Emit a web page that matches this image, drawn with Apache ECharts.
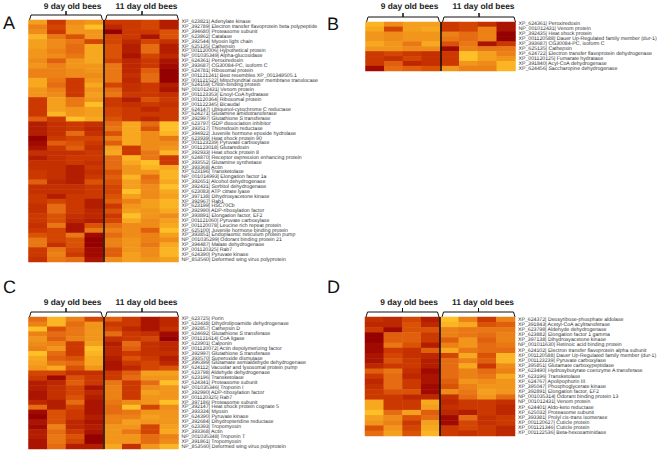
<!DOCTYPE html>
<html>
<head>
<meta charset="utf-8">
<title>Heatmaps</title>
<style>
  html, body { margin: 0; padding: 0; background: #fff; }
  #chart { width: 661px; height: 452px; }
  /* small gene labels: keep true glyph widths, hinting squeezes them */
  #chart text { text-rendering: geometricPrecision; }
</style>
<script src="https://cdn.jsdelivr.net/npm/echarts@6/dist/echarts.min.js"></script>
</head>
<body>
<div id="chart"></div>
<script>
const columns = ['9d-1', '9d-2', '9d-3', '9d-4', '11d-1', '11d-2', '11d-3', '11d-4'];
const groupNames = ['9 day old bees', '11 day old bees'];

// 0 = darkest red, 9 = lightest yellow
const colorRamp = ['#950000', '#ab1400', '#bd2800', '#cb3800', '#da5206', '#e56c12', '#ec8116', '#f1951b', '#f7a81f', '#ffbf26'];

const labelsA = [
  'XP_623821| Adenylate kinase',
  'XP_392789| Electron transfer flavoprotein beta polypeptide',
  'XP_394680| Proteasome subunit',
  'XP_623862| Catalase',
  'XP_392544| Myosin light chain',
  'XP_625135| Cathepsin',
  'XP_001120006| Hypothetical protein',
  'NP_001035349| Alpha-glucosidase',
  'XP_624361| Peroxiredoxin',
  'XP_393687| CG30084-PC, isoform C',
  'XP_624781| Ribosomal protein',
  'XP_001121241| Best resembles XP_001349505.1',
  'XP_001121522| Mitochondrial outer membrane translocase',
  'XP_624159| Chitin-binding protein',
  'NP_001012431| Venom protein',
  'XP_001123353| Enoyl-CoA hydratase',
  'XP_001120364| Ribosomal protein',
  'XP_001122345| Bicaudal',
  'XP_624147| Ubiquinol-cytochrome C reductase',
  'XP_624271| Glutamine amidotransferase',
  'XP_392997| Glutathione S transferase',
  'XP_623797| GDP dissociation inhibitor',
  'XP_393517| Thioredoxin reductase',
  'XP_394922| Juvenile hormone epoxide hydrolase',
  'XP_623939| Heat shock protein 90',
  'XP_001123239| Pyruvate carboxylase',
  'XP_001123018| Glutaredoxin',
  'XP_392933| Heat shock protein 8',
  'XP_624870| Receptor expression enhancing protein',
  'XP_393552| Glutamine synthetase',
  'XP_393368| Actin',
  'XP_623196| Transketolase',
  'NP_001014993| Elongation factor 1a',
  'XP_392651| Alcohol dehydrogenase',
  'XP_392431| Sorbitol dehydrogenase',
  'XP_623083| ATP citrate lyase',
  'XP_397138| Dihydroxyacetone kinase',
  'XP_392967| Rab1',
  'XP_623199| HSC70Cb',
  'XP_392990| ADP-ribosylation factor',
  'XP_393891| Elongation factor, EF2',
  'XP_001121060| Pyruvate carboxylase',
  'XP_001120078| Leucine rich repeat protein',
  'XP_625100| Juvenile hormone binding protein',
  'XP_393851| Endoplasmic reticulum protein pump',
  'NP_001035299| Odorant binding protein 21',
  'XP_394487| Malate dehydrogenase',
  'XP_001120325| Rab7',
  'XP_624390| Pyruvate kinase',
  'NP_853560| Deformed wing virus polyprotein',
];
const valuesA = [
  [7.5, 3, 6.5, 7, 3, 3, 3.5, 1.5],
  [6, 3.5, 7, 9, 2, 3, 3.5, 1.5],
  [6.5, 3, 7, 7, 0, 3, 3, 4],
  [8.5, 5.5, 4, 7, 3.5, 3, 1, 4],
  [7.5, 6.5, 5.5, 3.5, 3.5, 2, 3.5, 2.5],
  [7.5, 6.5, 5, 8, 4, 1.5, 5, 1.5],
  [7, 6, 5, 8, 4, 1.5, 5, 1.5],
  [7, 6.5, 5.5, 8, 4, 1, 3.5, 2],
  [6.5, 4.5, 7, 8, 3.5, 2, 3, 1],
  [7, 6, 7, 7, 5.5, 2, 3, 0.5],
  [6, 6, 6.5, 7, 5.5, 2, 4.5, 0],
  [6, 6, 6.5, 6.5, 5.5, 2.5, 5, 0],
  [8, 5.5, 3, 7, 5.5, 2, 5, 0],
  [8, 5, 3, 8, 3.5, 2.5, 3, 1.5],
  [7, 6, 3, 7, 5, 2.5, 3, 1],
  [7, 6.5, 3, 7.5, 5.5, 3, 3, 2.5],
  [3, 7.5, 5.5, 7, 3, 1.5, 4, 3],
  [3, 7.5, 5.5, 9, 3, 2.5, 3, 2.5],
  [3, 7.5, 7, 7.5, 3.5, 3, 2, 3],
  [3, 8.5, 7, 7.5, 3.5, 3, 3, 3],
  [4.5, 3, 9, 8, 4, 3, 2, 3],
  [1.5, 2.5, 3, 2.5, 5, 8, 5, 9],
  [1.5, 2.5, 3, 2, 5.5, 8, 4, 9],
  [1.5, 2.5, 5, 2.5, 4, 8, 6.5, 8.5],
  [0, 3, 3.5, 3.5, 6, 8, 6.5, 5.5],
  [0.5, 4.5, 4, 3, 4.5, 8, 6.5, 6.5],
  [1, 3, 4.5, 2.5, 7.5, 3, 6.5, 7],
  [2.5, 2.5, 2.5, 3, 8, 3, 5.5, 8.5],
  [1.5, 2.5, 3, 3, 5, 8.5, 5.5, 3],
  [2.5, 2.5, 3, 2.5, 5, 8, 9, 3],
  [2.5, 2.5, 1.5, 3, 5, 7, 8.5, 8],
  [3, 2.5, 1.5, 2.5, 4, 7, 7, 8.5],
  [3, 2.5, 1.5, 3, 4.5, 8.5, 5, 8.5],
  [4.5, 2, 1.5, 4, 4, 7.5, 5.5, 8],
  [2.5, 2.5, 2.5, 3, 3.5, 7.5, 6.5, 9],
  [2.5, 2.5, 2.5, 3, 3.5, 9, 6.5, 8],
  [3, 1.5, 3, 3, 4, 7.5, 6.5, 7.5],
  [3, 3.5, 3, 1.5, 4.5, 6, 7.5, 8.5],
  [2.5, 5, 3, 1.5, 3, 7, 7.5, 8.5],
  [2.5, 5, 3, 2, 4, 7.5, 7, 8],
  [3, 4, 2.5, 2, 3, 9, 7, 6.5],
  [3, 4, 2, 1.5, 3.5, 8, 6.5, 7.5],
  [2.5, 5.5, 1, 4, 5, 6.5, 6.5, 8],
  [3, 3.5, 1, 5.5, 6, 6.5, 4.5, 9],
  [4, 3.5, 5.5, 0.5, 5, 6.5, 6, 7.5],
  [5.5, 3.5, 4, 0, 6, 7, 6, 6.5],
  [5.5, 2.5, 4, 0, 6, 7, 5.5, 8],
  [3, 5.5, 3.5, 0.5, 4.5, 7, 6.5, 8.5],
  [3, 6, 3, 0.5, 4.5, 7.5, 6.5, 8.5],
  [2.5, 5.5, 5, 1, 6.5, 7.5, 7, 7.5],
];

const labelsB = [
  'XP_624361| Peroxiredoxin',
  'NP_001012431| Venom protein',
  'XP_392435| Heat shock protein',
  'XP_001120588| Dauer Up-Regulated family member (dur-1)',
  'XP_393687| CG30084-PC, isoform C',
  'XP_625135| Cathepsin',
  'XP_624722| Electron transfer flavoprotein dehydrogenase',
  'XP_001120125| Fumarate hydratase',
  'XP_391840| Acyl-CoA dehydrogenase',
  'XP_624456| Saccharopine dehydrogenase',
];
const valuesB = [
  [8.5, 6.5, 7.5, 7.5, 3, 3.5, 2.5, 1],
  [8, 3.5, 7.5, 8, 3, 3.5, 6, 1],
  [7, 6.5, 7, 7, 6, 5, 6, 0],
  [7, 6.5, 7, 7, 5.5, 5, 6, 0],
  [8, 7, 5.5, 8, 4, 5.5, 1, 3],
  [7, 7, 6.5, 6.5, 0.5, 6, 5.5, 5.5],
  [3, 3.5, 3, 2.5, 3, 9, 7.5, 6],
  [3, 2.5, 3.5, 2.5, 3, 9, 7.5, 7],
  [3, 4.5, 2, 2.5, 3, 7, 6.5, 8.5],
  [0.5, 5, 4.5, 4, 7, 6, 6, 8.5],
];

const labelsC = [
  'XP_623725| Porin',
  'XP_623438| Dihydrolipoamide dehydrogenase',
  'XP_392857| Cathepsin D',
  'XP_624692| Glutathione S transferase',
  'XP_001121614| CoA ligase',
  'XP_623901| Calponin',
  'XP_001120072| Actin depolymerizing factor',
  'XP_392997| Glutathione S transferase',
  'XP_393570| Superoxide dismutase',
  'XP_396399| Glutamate semialdehyde dehydrogenase',
  'XP_624112| Vacuolar and lysosomal protein pump',
  'XP_623798| Aldehyde dehydrogenase',
  'XP_623196| Transketolase',
  'XP_624341| Proteasome subunit',
  'NP_001035346| Troponin I',
  'XP_392990| ADP-ribosylation factor',
  'XP_001120325| Rab7',
  'XP_397186| Proteasome subunit',
  'XP_392147| Heat shock protein cognate 5',
  'XP_393334| Myosin',
  'XP_624390| Pyruvate kinase',
  'XP_392684| Dihydropteridine reductase',
  'XP_623393| Tropomyosin',
  'XP_393368| Actin',
  'NP_001035348| Troponin T',
  'XP_391861| Tropomyosin',
  'NP_853560| Deformed wing virus polyprotein',
];
const valuesC = [
  [5, 8.5, 6, 3.5, 4.5, 3, 1, 2],
  [6, 8.5, 5, 7, 3, 3, 1, 2],
  [9, 4, 5.5, 7, 3.5, 2, 1, 2.5],
  [6, 5, 5.5, 7, 5, 3, 2.5, 0.5],
  [7, 4.5, 6, 7, 2.5, 3, 3.5, 0],
  [6.5, 6, 3, 7.5, 1.5, 5, 2.5, 2],
  [6, 7, 3, 9, 2, 4.5, 2.5, 2],
  [9, 5, 3, 8.5, 2, 3, 2.5, 2.5],
  [8, 4.5, 4, 8, 1.5, 4, 3, 1.5],
  [7.5, 5.5, 5, 8, 1, 3, 3.5, 2],
  [7, 8, 4, 7, 1, 2, 3.5, 4],
  [3.5, 3.5, 2.5, 2.5, 3, 4.5, 7.5, 7.5],
  [3, 0.5, 4, 3, 3, 5, 7, 7],
  [1.5, 2, 4.5, 3, 5.5, 3, 5, 9],
  [1.5, 2.5, 3.5, 1, 6, 3, 6.5, 7],
  [1, 2.5, 3.5, 2, 6, 3, 7.5, 7],
  [1, 2.5, 4, 1.5, 6, 3, 7, 7],
  [2, 1.5, 5, 1, 5.5, 6.5, 7, 9],
  [5, 1.5, 3.5, 1, 5, 9, 3.5, 6.5],
  [0.5, 4, 3, 1, 5, 5.5, 7, 7],
  [0, 4, 3, 1.5, 6, 6, 7.5, 7],
  [1, 4, 2, 1, 6, 7.5, 7, 7],
  [0.5, 6, 2, 1.5, 7, 7, 3.5, 7.5],
  [1.5, 5, 3, 1, 7, 5.5, 3.5, 8],
  [1.5, 5.5, 4, 0, 7, 7, 5, 6],
  [1, 5.5, 3.5, 0, 7, 7, 5, 6.5],
  [1, 5, 1.5, 1.5, 8, 2.5, 7, 8.5],
];

const labelsD = [
  'XP_624372| Deoxyribose-phosphate aldolase',
  'XP_391843| Acetyl-CoA acyltransferase',
  'XP_623798| Aldehyde dehydrogenase',
  'XP_623882| Elongation factor 1 gamma',
  'XP_397138| Dihydroxyacetone kinase',
  'NP_001011630| Retinoic acid binding protein',
  'XP_624102| Electron transfer flavoprotein alpha subunit',
  'XP_001120588| Dauer Up-Regulated family member (dur-1)',
  'XP_001123239| Pyruvate carboxylase',
  'XP_395851| Glutamate carboxypeptidase',
  'XP_623490| Hydroxybutyrate coenzyme A transferase',
  'XP_623196| Transketolase',
  'XP_624767| Apolipophorin III',
  'XP_395047| Phosphoglycerate kinase',
  'XP_392891| Elongation factor, EF2',
  'NP_001035314| Odorant binding protein 13',
  'NP_001012431| Venom protein',
  'XP_624401| Aldo-keto reductase',
  'XP_625032| Proteasome subunit',
  'XP_393381| Prolyl cis-trans isomerase',
  'XP_001120627| Cuticle protein',
  'XP_001121346| Cuticle protein',
  'XP_001122536| Beta-hexosaminidase',
];
const valuesD = [
  [2.5, 2, 3.5, 1.5, 9, 6, 3, 6],
  [2, 2, 4, 2, 8.5, 8, 4, 4.5],
  [3, 0.5, 4, 4, 6, 5.5, 5.5, 5.5],
  [0, 4.5, 4.5, 3, 6, 5.5, 5, 6],
  [0, 4.5, 4.5, 3, 4.5, 7, 4.5, 6],
  [0.5, 5.5, 4, 1.5, 6, 7, 5, 5.5],
  [0.5, 3, 2.5, 4.5, 8, 5.5, 5, 5],
  [1, 3.5, 2.5, 2, 3.5, 8, 4, 8.5],
  [1, 4, 3, 1.5, 5, 6, 4.5, 8.5],
  [2, 3, 3, 1.5, 5, 8, 3, 6.5],
  [4.5, 5.5, 2.5, 0.5, 5, 6, 5, 6],
  [3, 5, 2, 1, 5, 6, 5.5, 8],
  [2, 5, 3, 1, 4.5, 7, 6.5, 7],
  [2.5, 5, 3, 0.5, 4, 6, 7, 7],
  [3, 4, 4, 0.5, 6.5, 5.5, 7.5, 7],
  [3, 3, 2, 2, 2.5, 5, 7, 5],
  [8, 3, 3, 8, 2, 3, 3, 2.5],
  [8, 3, 3, 7.5, 2.5, 3, 3, 2],
  [9, 5, 7.5, 4.5, 2, 1.5, 3, 2],
  [7.5, 6.5, 4, 5, 0.5, 5, 2.5, 3],
  [7, 6, 3, 7.5, 0.5, 3.5, 2.5, 3],
  [4, 7, 3.5, 8, 3, 3.5, 3, 2],
  [5, 7.5, 4, 8.5, 3, 2.5, 3, 2],
];

const panels = [
  { name: 'A', labels: labelsA, values: valuesA, left: 28.5, top: 20, width: 150, height: 242, letterX: 3, letterY: 23, titleY: 6 },
  { name: 'B', labels: labelsB, values: valuesB, left: 365.5, top: 22, width: 150, height: 49, letterX: 327, letterY: 24, titleY: 6 },
  { name: 'C', labels: labelsC, values: valuesC, left: 28.5, top: 317, width: 150, height: 132, letterX: 3, letterY: 287, titleY: 302 },
  { name: 'D', labels: labelsD, values: valuesD, left: 365, top: 317, width: 150, height: 119, letterX: 327, letterY: 287, titleY: 302 },
];

const chart = echarts.init(document.getElementById('chart'), null, { renderer: 'svg' });
const fontFamily = 'Liberation Sans, Arial, sans-serif';

function bracket(x0, x1, y) {
  const mid = (x0 + x1) / 2;
  return {
    type: 'polyline',
    silent: true,
    shape: { points: [[x0, y + 5], [x0 + 1.5, y], [mid, y], [mid, y - 4], [mid, y], [x1 - 1.5, y], [x1, y + 5]] },
    style: { stroke: '#111', lineWidth: 1, fill: null },
  };
}

function titleText(x, y, text) {
  return {
    type: 'text',
    silent: true,
    style: { x, y, text, fontSize: 8.4, fontWeight: 'bold', fontFamily, fill: '#222', align: 'center', verticalAlign: 'middle' },
  };
}

function panelGraphics(p) {
  const midX = p.left + p.width / 2;
  const bracketY = p.top - 5;
  return [
    { type: 'text', silent: true, style: { x: p.letterX, y: p.letterY, text: p.name, fontSize: 18, fontFamily, fill: '#111', verticalAlign: 'middle' } },
    bracket(p.left + 1, midX - 1, bracketY),
    bracket(midX + 2, p.left + p.width, bracketY),
    titleText(p.left + 44, p.titleY, groupNames[0]),
    titleText(p.left + 118, p.titleY, groupNames[1]),
  ];
}

const option = {
  animation: false,
  backgroundColor: '#fff',
  visualMap: { show: false, type: 'continuous', min: 0, max: 9, seriesIndex: panels.map((_, i) => i), inRange: { color: colorRamp } },
  grid: panels.map((p) => ({ left: p.left, top: p.top, width: p.width, height: p.height })),
  xAxis: panels.map((p, i) => ({
    type: 'category',
    gridIndex: i,
    data: columns,
    z: 5,
    axisLine: { show: false },
    axisTick: { show: false },
    axisLabel: { show: false },
    // black divider between the two age groups, needs a second tick or it lands on the edge
    splitLine: {
      show: true,
      showMinLine: false,
      showMaxLine: false,
      interval: (index) => index === 0 || index === 4,
      lineStyle: { color: '#111', width: 1.6 },
    },
  })),
  yAxis: panels.map((p, i) => ({
    type: 'category',
    gridIndex: i,
    position: 'right',
    inverse: true,
    data: p.labels,
    axisLine: { show: false },
    axisTick: { show: false },
    splitLine: { show: false },
    axisLabel: { show: true, interval: 0, margin: 3, fontSize: 5.2, fontFamily, color: '#333' },
  })),
  series: panels.map((p, i) => ({
    type: 'heatmap',
    xAxisIndex: i,
    yAxisIndex: i,
    progressive: 0,
    itemStyle: { borderWidth: 0 },
    data: p.values.flatMap((row, y) => row.map((v, x) => [x, y, v])),
  })),
  graphic: { elements: panels.flatMap(panelGraphics) },
};

chart.setOption(option);
</script>
</body>
</html>
